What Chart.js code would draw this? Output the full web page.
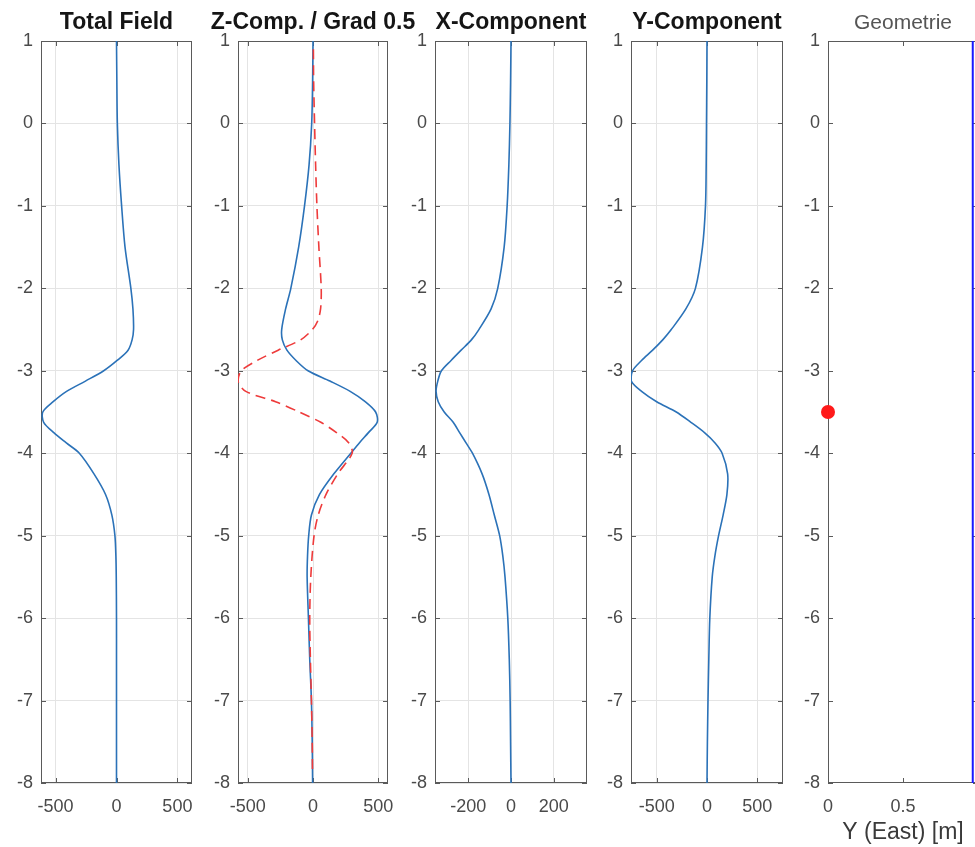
<!DOCTYPE html>
<html lang="de">
<head>
  <meta charset="UTF-8" />
  <title>Magnetic profiles</title>
  <script src="https://cdn.jsdelivr.net/npm/chart.js"></script>
  <style>
    html, body { margin: 0; padding: 0; background: #fff; }
    #fig { position: relative; width: 975px; height: 847px; overflow: hidden; }
    #fig canvas { position: absolute; top: 0; }
  </style>
</head>
<body>
  <div id="fig"></div>

  <script>
    // depth axis (shared by the profile curves)
    const depth = [1, 0.5, 0, -0.5, -1, -1.5, -2, -2.25, -2.5, -2.625, -2.75, -2.875, -3, -3.125,
      -3.25, -3.375, -3.5, -3.625, -3.75, -3.875, -4, -4.25, -4.5, -4.75, -5, -5.25, -5.5, -6, -6.5, -7, -7.5, -8];

    const totalField = [0, 3, 7, 20, 42, 70, 118, 135, 140, 128, 95, 5, -105,
      -255, -410, -520, -605, -598, -515, -412, -305, -185, -90, -38, -13, -5, -2, 0, 0, 0, 0, 0];

    const zComp = [0, -3, -10, -30, -65, -110, -170, -210, -240, -235, -200, -130, -38,
      130, 285, 400, 480, 492, 425, 355, 290, 160, 50, -12, -33, -42, -45, -35, -25, -12, -6, -3];

    const xComp = [0, -2, -5, -10, -18, -32, -62, -93, -150, -185, -233, -280, -325,
      -342, -350, -340, -312, -270, -240, -210, -180, -135, -103, -78, -53, -38, -28, -15, -8, -4, -2, 0];

    const yComp = [0, -2, -5, -8, -15, -45, -115, -210, -355, -440, -540, -650, -740,
      -752, -650, -500, -305, -160, -25, 80, 150, 205, 198, 160, 115, 78, 52, 28, 18, 10, 4, 0];

    // gradient curve is a bit shorter (finite differences)
    const gradDepth = [0.9, 0.5, 0, -0.5, -1, -1.5, -2, -2.25, -2.4, -2.5, -2.625, -2.75, -2.875, -3,
      -3.125, -3.25, -3.375, -3.5, -3.625, -3.75, -3.875, -4, -4.25, -4.5, -4.75, -5, -5.5, -6, -6.5, -7, -7.5, -7.9];
    const gradHalf = [3, 5, 12, 20, 30, 45, 63, 58, 35, -5, -95, -267, -428, -550,
      -575, -515, -287, -105, 60, 180, 275, 300, 190, 100, 40, 8, -17, -25, -20, -12, -6, -4];

    // geometry panel
    const sourceEast = [0];
    const sourceDepth = [-3.5];
    const profileEast = [0.965, 0.965];
    const profileDepth = [1, -8];

    // tick labels
    const depthTicks = [1, 0, -1, -2, -3, -4, -5, -6, -7, -8];
    const fieldTicks = [-500, 0, 500];
    const xCompTicks = [-200, 0, 200];
    const geoTicks = [0, 0.5];

    const FONT = '"Liberation Sans", Arial, Helvetica, sans-serif';
    const M = 44;          // room for the y tick labels
    const TOP = 41;        // plot top edge
    const BLUE = '#2b72b8';

    const pts = (xs, ys) => xs.map((v, i) => ({ x: v, y: ys[i] }));

    // MATLAB-like box with inward ticks on all four sides
    const boxPlugin = {
      id: 'box',
      beforeDatasetsDraw(chart) {
        const { ctx, chartArea: a, scales: { x, y } } = chart;
        ctx.save();
        ctx.strokeStyle = '#5a5a5a';
        ctx.lineWidth = 1;
        ctx.strokeRect(Math.round(a.left) + 0.5, Math.round(a.top) + 0.5,
          Math.round(a.width) - 1, Math.round(a.height) - 1);
        ctx.beginPath();
        x.ticks.forEach(t => {
          const px = Math.round(x.getPixelForValue(t.value)) + 0.5;
          ctx.moveTo(px, a.top); ctx.lineTo(px, a.top + 5);
          ctx.moveTo(px, a.bottom); ctx.lineTo(px, a.bottom - 5);
        });
        y.ticks.forEach(t => {
          const py = Math.round(y.getPixelForValue(t.value)) + 0.5;
          ctx.moveTo(a.left, py); ctx.lineTo(a.left + 5, py);
          ctx.moveTo(a.right, py); ctx.lineTo(a.right - 5, py);
        });
        ctx.stroke();
        ctx.restore();
      }
    };

    // panel title centred over the plot box (may run wider than the box)
    const headPlugin = {
      id: 'head',
      afterDraw(chart, args, opts) {
        const { ctx, chartArea: a } = chart;
        ctx.save();
        ctx.font = `${opts.weight} ${opts.size}px ${FONT}`;
        ctx.fillStyle = opts.color;
        ctx.textAlign = 'center';
        ctx.textBaseline = 'alphabetic';
        ctx.fillText(opts.text, (a.left + a.right) / 2, 28.5);
        ctx.restore();
      }
    };

    function panel(cfg) {
      const canvas = document.createElement('canvas');
      canvas.width = cfg.width + 2 * M + 30;
      canvas.height = 847;
      canvas.style.left = (cfg.left - M - 15) + 'px';
      document.getElementById('fig').appendChild(canvas);

      const showGrid = cfg.grid !== false;

      new Chart(canvas, {
        type: 'line',
        data: { datasets: cfg.datasets },
        options: {
          responsive: false,
          animation: false,
          events: [],
          layout: { padding: { left: 15, right: M + 15, top: TOP, bottom: 0 } },
          plugins: {
            legend: { display: false },
            tooltip: { enabled: false },
            head: {
              text: cfg.title,
              color: cfg.titleColor || '#151515',
              size: cfg.titleSize || 23,
              weight: cfg.titleWeight || 'bold'
            }
          },
          scales: {
            x: {
              type: 'linear',
              min: cfg.xmin,
              max: cfg.xmax,
              afterBuildTicks: s => { s.ticks = cfg.xTicks.map(v => ({ value: v })); },
              afterFit: s => { s.height = 64; },
              grid: { display: showGrid, color: '#e4e4e4', drawTicks: false },
              border: { display: false },
              ticks: { color: '#4a4a4a', font: { family: FONT, size: 18 }, padding: 13, maxRotation: 0 },
              title: cfg.xTitle
                ? { display: true, text: cfg.xTitle, color: '#3a3a3a', font: { family: FONT, size: 23 }, padding: { top: 0, bottom: 1 } }
                : { display: false }
            },
            y: {
              type: 'linear',
              min: -8,
              max: 1,
              afterBuildTicks: s => { s.ticks = depthTicks.map(v => ({ value: v })); },
              afterFit: s => { s.width = M; },
              grid: { display: showGrid, color: '#e4e4e4', drawTicks: false },
              border: { display: false },
              ticks: { color: '#4a4a4a', font: { family: FONT, size: 18 }, padding: 8 }
            }
          }
        },
        plugins: [boxPlugin, headPlugin]
      });
    }

    const curve = (xs, ys, extra) => Object.assign({
      data: pts(xs, ys),
      borderColor: BLUE,
      borderWidth: 1.6,
      pointRadius: 0,
      tension: 0.3,
      fill: false
    }, extra || {});

    panel({
      left: 41, width: 151, title: 'Total Field',
      xmin: -620, xmax: 620, xTicks: fieldTicks,
      datasets: [curve(totalField, depth)]
    });

    panel({
      left: 238, width: 150, title: 'Z-Comp. / Grad 0.5',
      xmin: -575, xmax: 575, xTicks: fieldTicks,
      datasets: [
        curve(gradHalf, gradDepth, { borderColor: '#ee3b3b', borderDash: [10, 6], order: 0 }),
        curve(zComp, depth, { order: 1 })
      ]
    });

    panel({
      left: 435, width: 152, title: 'X-Component',
      xmin: -355, xmax: 355, xTicks: xCompTicks,
      datasets: [curve(xComp, depth)]
    });

    panel({
      left: 631, width: 152, title: 'Y-Component',
      xmin: -755, xmax: 755, xTicks: fieldTicks,
      datasets: [curve(yComp, depth)]
    });

    panel({
      left: 828, width: 150, title: 'Geometrie', titleWeight: 'normal', titleSize: 21, titleColor: '#555',
      xmin: 0, xmax: 1, xTicks: geoTicks, xTitle: 'Y (East) [m]', grid: false,
      datasets: [
        {
          data: pts(sourceEast, sourceDepth),
          showLine: false,
          pointRadius: 7,
          pointBackgroundColor: '#ff1a1a',
          pointBorderWidth: 0,
          clip: false,
          order: 0
        },
        curve(profileEast, profileDepth, { borderColor: '#1a1aff', borderWidth: 2, tension: 0, order: 1 })
      ]
    });
  </script>
</body>
</html>
